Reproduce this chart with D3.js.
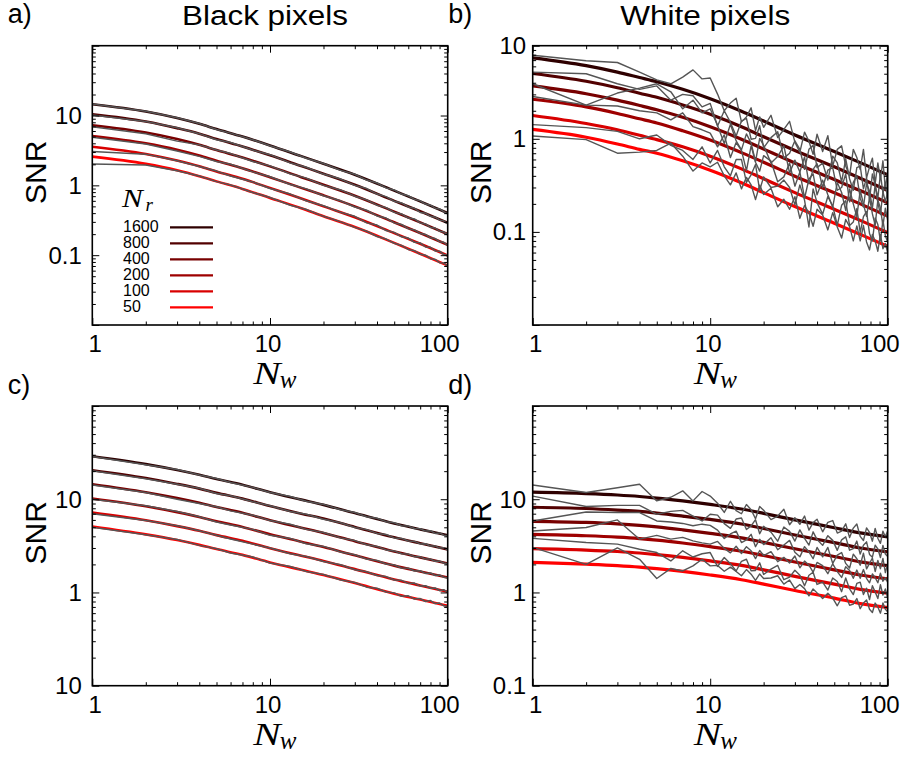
<!DOCTYPE html>
<html>
<head>
<meta charset="utf-8">
<script src="https://cdn.jsdelivr.net/npm/d3@7"></script>
<style>
  body { margin: 0; background: #fff; }
  text { font-family: "Liberation Sans", Arial, sans-serif; fill: #000; }
  .math { font-family: "Liberation Serif", "Times New Roman", serif; font-style: italic; }
</style>
</head>
<body>
<svg id="fig" width="905" height="758"></svg>
<script>
// SNR against N_w, black and white pixels, four panels

var nrLabels = ["1600", "800", "400", "200", "100", "50"];
var lineColors = ["#2e0000", "#520000", "#780000", "#9e0000", "#d80000", "#ff0000"];

var xTicks = [1, 10, 100];
var xTickLabels = ["1", "10", "100"];
var yTicks = [0.1, 1, 10];
var yLabelsA = ["0.1", "1", "10"];
var yLabelsB = ["0.1", "1", "10"];
var yLabelsC = ["10", "1", "10"];
var yLabelsD = ["0.1", "1", "10"];

// theory curves (one row per N_r, same order as nrLabels), sampled at thN
var thN = [1, 2, 3, 4, 5, 7, 10, 15, 20, 30, 50, 70, 100];

var theoryA = [
  [14.5, 11.4, 9.2, 7.6, 6.4, 5.0, 3.73, 2.62, 2.04, 1.42, 0.84, 0.59, 0.40],
  [10.4, 8.2, 6.6, 5.5, 4.6, 3.6, 2.69, 1.89, 1.47, 1.02, 0.60, 0.425, 0.29],
  [7.25, 5.7, 4.6, 3.8, 3.2, 2.5, 1.87, 1.31, 1.02, 0.71, 0.42, 0.295, 0.2],
  [5.1, 4.0, 3.24, 2.68, 2.25, 1.76, 1.31, 0.92, 0.72, 0.5, 0.296, 0.208, 0.141],
  [3.58, 2.82, 2.27, 1.88, 1.58, 1.24, 0.92, 0.65, 0.5, 0.35, 0.207, 0.146, 0.099],
  [2.58, 2.03, 1.64, 1.35, 1.14, 0.89, 0.66, 0.47, 0.36, 0.253, 0.15, 0.105, 0.071]
];
var theoryB = [
  [7.4, 6.1, 5.2, 4.55, 4.1, 3.4, 2.7, 1.98, 1.55, 1.1, 0.73, 0.555, 0.41],
  [5.03, 4.15, 3.54, 3.09, 2.79, 2.31, 1.84, 1.35, 1.05, 0.75, 0.5, 0.377, 0.279],
  [3.7, 3.05, 2.6, 2.28, 2.05, 1.7, 1.35, 0.99, 0.775, 0.55, 0.365, 0.278, 0.205],
  [2.66, 2.2, 1.87, 1.64, 1.48, 1.22, 0.97, 0.71, 0.56, 0.396, 0.263, 0.2, 0.148],
  [1.78, 1.46, 1.25, 1.09, 0.98, 0.82, 0.65, 0.475, 0.372, 0.264, 0.175, 0.133, 0.098],
  [1.26, 1.04, 0.88, 0.77, 0.7, 0.58, 0.46, 0.337, 0.264, 0.187, 0.124, 0.094, 0.07]
];
var theoryC = [
  [28.9, 23.8, 20.6, 18.3, 16.5, 14.3, 11.9, 9.9, 8.7, 7.1, 5.5, 4.75, 4.1],
  [20.5, 16.9, 14.6, 13.0, 11.7, 10.15, 8.45, 7.0, 6.2, 5.05, 3.9, 3.37, 2.9],
  [14.5, 11.9, 10.3, 9.15, 8.25, 7.15, 5.95, 4.95, 4.35, 3.55, 2.75, 2.38, 2.05],
  [10.2, 8.4, 7.27, 6.46, 5.82, 5.05, 4.2, 3.5, 3.07, 2.5, 1.94, 1.68, 1.45],
  [7.2, 5.95, 5.15, 4.58, 4.12, 3.58, 2.98, 2.48, 2.18, 1.78, 1.38, 1.19, 1.02],
  [5.1, 4.2, 3.65, 3.24, 2.92, 2.53, 2.1, 1.75, 1.54, 1.26, 0.97, 0.84, 0.72]
];
var theoryD = [
  [11.9, 11.5, 11.1, 10.7, 10.3, 9.6, 8.8, 7.85, 7.05, 6.0, 4.95, 4.35, 3.95],
  [8.2, 7.95, 7.65, 7.4, 7.1, 6.6, 6.07, 5.42, 4.86, 4.14, 3.42, 3.0, 2.73],
  [5.8, 5.64, 5.44, 5.24, 5.05, 4.7, 4.31, 3.85, 3.45, 2.94, 2.43, 2.13, 1.94],
  [4.2, 4.06, 3.92, 3.78, 3.64, 3.39, 3.1, 2.77, 2.49, 2.12, 1.75, 1.54, 1.4],
  [2.95, 2.85, 2.75, 2.65, 2.55, 2.38, 2.18, 1.95, 1.75, 1.49, 1.23, 1.08, 0.98],
  [2.1, 2.01, 1.94, 1.87, 1.8, 1.68, 1.54, 1.37, 1.23, 1.05, 0.87, 0.76, 0.69]
];

// simulated SNR (grey), panels a and c
var grayNac = [1, 2, 3, 4, 5, 6, 8, 10, 13, 16, 20, 25, 30, 35, 40, 45, 50, 55, 60, 65, 70, 75, 80, 85, 90, 95, 100];

var grayA = [
  [14.6, 11.5, 9.3, 7.7, 6.3, 5.6, 4.5, 3.7, 3.0, 2.45, 2.06, 1.64, 1.44, 1.19, 1.08, 0.92, 0.86, 0.75, 0.71, 0.63, 0.60, 0.54, 0.52, 0.47, 0.46, 0.42, 0.39],
  [10.2, 8.2, 6.7, 5.5, 4.5, 4.1, 3.2, 2.75, 2.1, 1.82, 1.45, 1.23, 1.0, 0.9, 0.75, 0.69, 0.59, 0.56, 0.49, 0.47, 0.41, 0.40, 0.36, 0.35, 0.32, 0.31, 0.28],
  [6.9, 5.5, 4.3, 3.8, 3.2, 2.85, 2.2, 1.9, 1.46, 1.27, 1.0, 0.86, 0.7, 0.62, 0.52, 0.48, 0.41, 0.39, 0.34, 0.33, 0.29, 0.28, 0.25, 0.245, 0.22, 0.215, 0.195],
  [4.9, 3.9, 3.1, 2.6, 2.2, 2.0, 1.56, 1.33, 1.03, 0.89, 0.71, 0.6, 0.49, 0.44, 0.365, 0.34, 0.29, 0.275, 0.24, 0.23, 0.205, 0.198, 0.177, 0.173, 0.156, 0.153, 0.138],
  [3.06, 2.8, 2.25, 1.86, 1.6, 1.36, 1.12, 0.9, 0.75, 0.6, 0.51, 0.41, 0.36, 0.29, 0.27, 0.225, 0.212, 0.183, 0.176, 0.153, 0.15, 0.131, 0.13, 0.115, 0.114, 0.102, 0.1],
  [2.03, 1.95, 1.62, 1.36, 1.13, 1.01, 0.79, 0.67, 0.52, 0.45, 0.36, 0.3, 0.25, 0.22, 0.185, 0.17, 0.148, 0.138, 0.121, 0.116, 0.103, 0.1, 0.089, 0.087, 0.078, 0.077, 0.07]
];
var grayC = [
  [28.8, 23.5, 20.8, 18.2, 16.7, 15.1, 13.4, 11.8, 10.7, 9.5, 8.8, 7.7, 7.2, 6.5, 6.25, 5.75, 5.6, 5.2, 5.15, 4.85, 4.82, 4.55, 4.6, 4.3, 4.35, 4.12, 4.05],
  [20.2, 16.6, 14.5, 13.1, 11.5, 10.9, 9.4, 8.5, 7.4, 6.9, 6.1, 5.6, 4.98, 4.72, 4.3, 4.18, 3.85, 3.8, 3.56, 3.53, 3.32, 3.33, 3.15, 3.16, 2.99, 3.02, 2.86],
  [14.2, 11.8, 10.0, 9.0, 8.3, 7.5, 6.75, 5.9, 5.4, 4.75, 4.4, 3.85, 3.6, 3.25, 3.12, 2.86, 2.79, 2.6, 2.58, 2.42, 2.41, 2.28, 2.28, 2.16, 2.17, 2.07, 2.03],
  [10.0, 8.5, 7.4, 6.5, 5.7, 5.3, 4.75, 4.1, 3.8, 3.33, 3.12, 2.72, 2.54, 2.28, 2.2, 2.02, 1.97, 1.83, 1.82, 1.7, 1.71, 1.6, 1.62, 1.52, 1.54, 1.46, 1.43],
  [7.0, 5.9, 5.2, 4.6, 4.1, 3.75, 3.3, 3.0, 2.6, 2.43, 2.15, 1.98, 1.75, 1.67, 1.52, 1.48, 1.36, 1.35, 1.25, 1.26, 1.17, 1.18, 1.11, 1.12, 1.05, 1.07, 1.0],
  [5.0, 4.15, 3.7, 3.2, 2.95, 2.65, 2.4, 2.07, 1.9, 1.68, 1.56, 1.36, 1.28, 1.14, 1.11, 1.01, 0.99, 0.91, 0.92, 0.85, 0.86, 0.8, 0.82, 0.76, 0.77, 0.72, 0.71]
];

// simulated SNR (grey), panels b and d
var grayNbd = [1, 2, 3, 4, 5, 6, 7, 8, 9, 10, 11, 12, 13, 14, 15, 16, 17, 18, 19, 20,
  22, 24, 26, 28, 30, 32, 34, 36, 38, 40,
  43, 46, 49, 52, 55, 58, 61, 64, 67, 70, 73, 76, 79, 82, 85, 88, 91, 94, 97, 100];

var grayB = [
  [7.9, 6.9, 6.6, 5.2, 4.3, 3.9, 4.6, 5.5, 4.4, 4.5,
   3.02, 2.0, 2.42, 2.73, 1.52, 1.72, 2.15, 1.23, 1.72, 1.33,
   1.79, 1.03, 1.26, 1.54, 0.92, 0.72, 1.18, 0.94, 0.68, 1.12,
   0.73, 1.08, 0.51, 0.77, 0.84, 0.51, 0.4, 0.77, 0.63, 0.47, 0.77, 0.38, 0.5, 0.62, 0.33, 0.55, 0.37, 0.58, 0.29, 0.45],
  [5.2, 5.0, 3.9, 3.4, 3.7, 2.6, 3.0, 2.9, 2.2, 2.4,
   1.37, 2.0, 1.5, 1.07, 1.55, 1.66, 0.99, 1.01, 1.38, 0.8,
   1.03, 1.19, 0.62, 0.7, 0.95, 0.77, 0.47, 0.77, 0.85, 0.49,
   0.55, 0.36, 0.65, 0.55, 0.345, 0.61, 0.37, 0.28, 0.49, 0.51, 0.29, 0.38, 0.22, 0.42, 0.32, 0.23, 0.42, 0.26, 0.34, 0.22],
  [3.9, 2.3, 3.1, 3.5, 3.9, 3.2, 2.1, 2.6, 1.9, 2.1,
   1.39, 0.89, 1.43, 0.95, 0.76, 1.13, 0.9, 0.57, 1.01, 0.85,
   0.55, 0.645, 0.84, 0.43, 0.59, 0.44, 0.64, 0.33, 0.47, 0.54,
   0.3, 0.46, 0.49, 0.28, 0.3, 0.42, 0.21, 0.34, 0.4, 0.23, 0.185, 0.33, 0.275, 0.18, 0.32, 0.205, 0.154, 0.27, 0.21, 0.27],
  [2.85, 2.3, 2.25, 2.0, 1.9, 1.6, 1.9, 1.35, 1.25, 1.15,
   0.82, 1.1, 0.63, 0.91, 0.75, 0.455, 0.84, 0.56, 0.45, 0.66,
   0.575, 0.345, 0.39, 0.55, 0.31, 0.44, 0.23, 0.37, 0.42, 0.25,
   0.36, 0.25, 0.184, 0.34, 0.265, 0.17, 0.29, 0.2, 0.145, 0.28, 0.2, 0.147, 0.234, 0.156, 0.118, 0.22, 0.18, 0.116, 0.18, 0.133],
  [1.42, 1.32, 1.2, 1.0, 1.1, 0.85, 0.75, 0.6, 0.82, 0.55,
   0.75, 0.5, 0.4, 0.6, 0.6, 0.34, 0.41, 0.53, 0.28, 0.39,
   0.3, 0.31, 0.36, 0.3, 0.195, 0.32, 0.22, 0.113, 0.29, 0.206,
   0.155, 0.24, 0.19, 0.118, 0.193, 0.216, 0.117, 0.128, 0.178, 0.099, 0.146, 0.165, 0.096, 0.08, 0.141, 0.12, 0.08, 0.134, 0.091, 0.078],
  [1.07, 0.98, 0.7, 0.72, 0.75, 0.9, 0.65, 0.45, 0.55, 0.5,
   0.56, 0.4, 0.32, 0.43, 0.29, 0.385, 0.32, 0.223, 0.318, 0.252,
   0.294, 0.186, 0.224, 0.175, 0.239, 0.14, 0.192, 0.16, 0.115, 0.175,
   0.152, 0.105, 0.161, 0.113, 0.086, 0.136, 0.114, 0.08, 0.116, 0.08, 0.117, 0.078, 0.064, 0.094, 0.08, 0.062, 0.094, 0.066, 0.075, 0.06]
];
var grayD = [
  [14.2, 11.8, 13.3, 14.5, 9.6, 10.5, 12.3, 9.6, 12.1, 10.8,
   9.07, 7.22, 9.51, 7.56, 6.99, 8.78, 7.73, 6.17, 8.35, 7.61,
   6.05, 6.6, 7.81, 5.33, 6.33, 5.38, 6.61, 4.66, 5.61, 6.1,
   4.47, 5.64, 5.91, 4.34, 4.54, 5.45, 3.88, 4.9, 5.43, 4.0, 3.61, 4.92, 4.41, 3.55, 4.86, 3.82, 3.36, 4.54, 3.96, 4.58],
  [10.8, 8.35, 8.6, 8.6, 6.9, 7.4, 7.6, 6.6, 5.85, 6.9,
   6.76, 5.48, 4.87, 6.13, 6.29, 4.73, 5.18, 6.03, 4.27, 5.13,
   4.43, 3.55, 5.04, 4.52, 3.56, 4.69, 3.81, 3.22, 4.47, 3.69,
   3.2, 4.07, 3.62, 2.83, 3.67, 3.95, 2.84, 2.96, 3.56, 2.58, 3.21, 3.49, 2.56, 2.39, 3.21, 2.94, 2.37, 3.19, 2.58, 2.43],
  [5.85, 7.3, 7.2, 7.2, 5.85, 5.7, 5.5, 5.2, 5.4, 5.25,
   4.67, 3.79, 4.24, 4.55, 3.43, 3.66, 4.2, 3.1, 3.72, 3.26,
   3.86, 2.87, 3.23, 3.62, 2.7, 2.41, 3.1, 2.72, 2.3, 3.04,
   2.41, 3.04, 2.05, 2.52, 2.68, 2.05, 1.83, 2.58, 2.3, 1.96, 2.64, 1.79, 2.05, 2.34, 1.68, 2.2, 1.8, 2.32, 1.63, 2.05],
  [4.57, 4.97, 6.0, 3.73, 4.1, 3.73, 3.9, 3.57, 3.4, 3.3,
   3.53, 2.97, 2.66, 3.13, 2.62, 3.1, 2.8, 2.31, 2.82, 2.49,
   2.74, 2.14, 2.38, 2.07, 2.46, 1.84, 2.17, 1.96, 1.65, 2.1,
   1.94, 1.59, 2.03, 1.67, 1.45, 1.89, 1.72, 1.42, 1.74, 1.42, 1.76, 1.42, 1.27, 1.58, 1.44, 1.27, 1.61, 1.32, 1.44, 1.28],
  [3.8, 3.43, 3.3, 2.91, 2.68, 2.18, 2.8, 2.4, 2.6, 2.68,
   1.9, 2.37, 2.03, 1.7, 2.16, 2.27, 1.71, 1.72, 2.08, 1.56,
   1.78, 1.95, 1.37, 1.46, 1.73, 1.53, 1.18, 1.53, 1.65, 1.22,
   1.29, 1.06, 1.43, 1.31, 1.02, 1.43, 1.09, 0.95, 1.25, 1.29, 0.95, 1.11, 0.84, 1.18, 1.01, 0.86, 1.21, 0.94, 1.09, 0.87],
  [3.04, 2.0, 3.0, 2.27, 1.41, 1.81, 1.7, 1.93, 2.27, 1.93,
   1.95, 1.69, 1.87, 1.68, 1.51, 1.76, 1.57, 1.35, 1.58, 1.41,
   1.43, 1.51, 1.23, 1.36, 1.1, 1.22, 1.1, 0.92, 1.09, 0.99,
   0.86, 0.98, 0.87, 0.72, 0.88, 0.92, 0.73, 0.75, 0.86, 0.67, 0.77, 0.83, 0.66, 0.61, 0.77, 0.7, 0.6, 0.77, 0.66, 0.62]
];

///////////////////////////////////////////////////////////////////////////////
// layout

var svg = d3.select("#fig");
var defs = svg.append("defs");
defs.append("clipPath").attr("id", "leftHalf")
  .append("rect").attr("x", 0).attr("y", 0).attr("width", 460).attr("height", 758);

var panels = [
  { id: "a", tag: "a)", title: "Black pixels", left: 92.3, right: 447.7, top: 45.7, bottom: 325,
    yDomain: [0.01, 100], yLabels: yLabelsA, labelGap: 10.5, theory: theoryA, grayN: grayNac, gray: grayA,
    thick: 2.6, grayW: 1.5, clip: "leftHalf" },
  { id: "b", tag: "b)", title: "White pixels", left: 532.7, right: 887.7, top: 45.7, bottom: 325,
    yDomain: [0.01, 10], yLabels: yLabelsB, labelGap: 6.5, theory: theoryB, grayN: grayNbd, gray: grayB,
    thick: 3.2, grayW: 1.4 },
  { id: "c", tag: "c)", left: 92.3, right: 447.7, top: 406, bottom: 685.7,
    yDomain: [0.1, 100], yLabels: yLabelsC, labelGap: 10.5, theory: theoryC, grayN: grayNac, gray: grayC,
    thick: 2.6, grayW: 1.5, clip: "leftHalf" },
  { id: "d", tag: "d)", left: 532.7, right: 887.7, top: 406, bottom: 685.7,
    yDomain: [0.1, 100], yLabels: yLabelsD, labelGap: 6.5, theory: theoryD, grayN: grayNbd, gray: grayD,
    thick: 3.2, grayW: 1.4 }
];

var xLabelNudge = [3, -2, -8];

panels.forEach(function (p) {
  var g = svg.append("g");
  if (p.clip) g.attr("clip-path", "url(#" + p.clip + ")");

  var x = d3.scaleLog().domain([1, 100]).range([p.left, p.right]);
  var y = d3.scaleLog().domain(p.yDomain).range([p.bottom, p.top]);

  // data clipped to the frame
  defs.append("clipPath").attr("id", "plot-" + p.id)
    .append("rect").attr("x", p.left).attr("y", p.top)
    .attr("width", p.right - p.left).attr("height", p.bottom - p.top);
  var plot = g.append("g").attr("clip-path", "url(#plot-" + p.id + ")");

  var smooth = d3.line().x(function (d) { return x(d[0]); })
    .y(function (d) { return y(d[1]); }).curve(d3.curveMonotoneX);
  var jagged = d3.line().x(function (d) { return x(d[0]); })
    .y(function (d) { return y(d[1]); });

  p.theory.forEach(function (vals, i) {
    plot.append("path").datum(d3.zip(thN, vals))
      .attr("d", smooth).attr("fill", "none")
      .attr("stroke", lineColors[i]).attr("stroke-width", p.thick)
      .attr("stroke-linejoin", "round");
  });
  p.gray.forEach(function (vals) {
    plot.append("path").datum(d3.zip(p.grayN, vals))
      .attr("d", jagged).attr("fill", "none")
      .attr("stroke", "#555").attr("stroke-width", p.grayW)
      .attr("stroke-linejoin", "round");
  });

  // ticks on all four sides, pointing in
  var decades = [0.01, 0.1, 1, 10, 100];
  var yMajorAll = y.ticks().filter(function (v) { return decades.indexOf(v) >= 0; });
  var yMinor = y.ticks().filter(function (v) { return decades.indexOf(v) < 0; });
  var xMinor = x.ticks().filter(function (v) { return xTicks.indexOf(v) < 0; });
  var sides = [
    [d3.axisBottom(x), p.bottom, true], [d3.axisTop(x), p.top, true],
    [d3.axisLeft(y), p.left, false], [d3.axisRight(y), p.right, false]
  ];
  sides.forEach(function (s) {
    var isX = s[2];
    var tr = isX ? "translate(0," + s[1] + ")" : "translate(" + s[1] + ",0)";
    [[isX ? xTicks : yMajorAll, -7], [isX ? xMinor : yMinor, -3.5]].forEach(function (t) {
      g.append("g").attr("transform", tr)
        .call(s[0].tickValues(t[0]).tickSize(t[1]).tickFormat(""))
        .call(function (a) { a.select(".domain").remove(); })
        .selectAll("line").attr("stroke", "#000").attr("stroke-width", 1);
    });
  });

  g.append("rect").attr("x", p.left).attr("y", p.top)
    .attr("width", p.right - p.left).attr("height", p.bottom - p.top)
    .attr("fill", "none").attr("stroke", "#000").attr("stroke-width", 1.6);

  // tick labels
  xTicks.forEach(function (v, i) {
    g.append("text").attr("x", x(v) + xLabelNudge[i]).attr("y", p.bottom + 27)
      .attr("text-anchor", "middle").attr("font-size", 24).text(xTickLabels[i]);
  });
  yTicks.forEach(function (v, i) {
    g.append("text").attr("x", p.left - p.labelGap).attr("y", y(v) + 8.5)
      .attr("text-anchor", "end").attr("font-size", 24).text(p.yLabels[i]);
  });

  // axis titles
  var midY = (p.top + p.bottom) / 2 - 13;
  g.append("text")
    .attr("transform", "translate(" + (p.left - p.labelGap - 35.5) + "," + midY + ") rotate(-90)")
    .attr("text-anchor", "middle").attr("font-size", 30).text("SNR");
  g.append("text").attr("class", "math").attr("font-size", 32)
    .attr("transform", "translate(" + (p.left + 161) + "," + (p.bottom + 59) + ") scale(1.28,1)")
    .text("N");
  g.append("text").attr("class", "math").attr("font-size", 25)
    .attr("x", p.left + 187.5).attr("y", p.bottom + 63).text("w");

  // panel tag and column title
  svg.append("text").attr("x", p.left - 84.5).attr("y", p.top < 100 ? 23 : 394)
    .attr("font-size", 27).text(p.tag);
  if (p.title) {
    svg.append("text").attr("x", (p.left + p.right) / 2 - 5).attr("y", 25)
      .attr("text-anchor", "middle").attr("font-size", 27)
      .attr("textLength", p.id === "a" ? 166 : 170).attr("lengthAdjust", "spacingAndGlyphs")
      .text(p.title);
  }
});

///////////////////////////////////////////////////////////////////////////////
// legend inside panel a

var legend = svg.append("g");
legend.append("text").attr("class", "math").attr("font-size", 26)
  .attr("transform", "translate(122,206.5) scale(1.2,1)").text("N");
legend.append("text").attr("class", "math").attr("font-size", 19)
  .attr("x", 145.5).attr("y", 210.5).text("r");

nrLabels.forEach(function (lab, i) {
  legend.append("text").attr("x", 123).attr("y", 231.5 + 16 * i)
    .attr("font-size", 16).text(lab);
  legend.append("line").attr("x1", 170).attr("x2", 213)
    .attr("y1", 227.3 + 16 * i).attr("y2", 227.3 + 16 * i)
    .attr("stroke", lineColors[i]).attr("stroke-width", 2.2);
});
</script>
</body>
</html>
